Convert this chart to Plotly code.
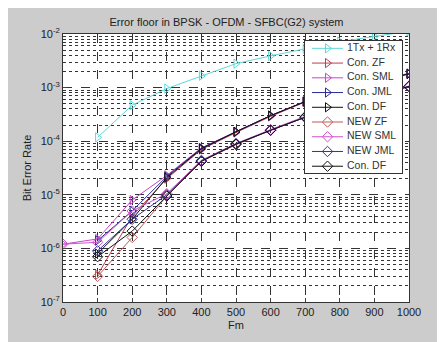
import plotly.graph_objects as go

fm_all = [0, 100, 200, 300, 400, 500, 600, 700, 800, 900, 1000]
fm = [100, 200, 300, 400, 500, 600, 700, 800, 900, 1000]

ber_1tx1rx = [1.18e-4, 4.7e-4, 9.6e-4, 1.66e-3, 2.8e-3, 3.9e-3, 5.3e-3, 7.2e-3, 9.0e-3, 1.12e-2]

con_zf  = [3.2e-7, 4.0e-6, 2.0e-5, 7.0e-5, 1.45e-4, 2.9e-4, 5.4e-4, 8.8e-4, 1.3e-3, 1.8e-3]
con_sml = [1.2e-6, 1.5e-6, 8.0e-6, 2.3e-5, 7.5e-5, 1.5e-4, 3.0e-4, 5.5e-4, 9.0e-4, 1.3e-3, 1.85e-3]
con_jml = [1.4e-6, 5.0e-6, 2.2e-5, 7.4e-5, 1.5e-4, 3.0e-4, 5.5e-4, 9.0e-4, 1.3e-3, 1.8e-3]
con_df  = [8.0e-7, 3.5e-6, 2.1e-5, 7.2e-5, 1.5e-4, 3.0e-4, 5.5e-4, 9.0e-4, 1.3e-3, 1.8e-3]
new_zf  = [3.0e-7, 1.6e-6, 9.5e-6, 4.2e-5, 8.6e-5, 1.6e-4, 2.8e-4, 4.6e-4, 7.0e-4, 1.05e-3]
new_sml = [1.2e-6, 1.3e-6, 5.0e-6, 1.05e-5, 4.4e-5, 9.0e-5, 1.65e-4, 2.9e-4, 4.7e-4, 7.2e-4, 1.07e-3]
new_jml = [9.0e-7, 3.5e-6, 1.0e-5, 4.3e-5, 9.0e-5, 1.6e-4, 2.8e-4, 4.6e-4, 7.0e-4, 1.05e-3]
new_df  = [7.0e-7, 2.1e-6, 9.5e-6, 4.2e-5, 8.8e-5, 1.6e-4, 2.8e-4, 4.6e-4, 7.0e-4, 1.05e-3]

y_tickvals = [1e-7, 1e-6, 1e-5, 1e-4, 1e-3, 1e-2]
y_ticktext = ["10<sup>-7</sup>", "10<sup>-6</sup>", "10<sup>-5</sup>", "10<sup>-4</sup>", "10<sup>-3</sup>", "10<sup>-2</sup>"]
x_tickvals = [0, 100, 200, 300, 400, 500, 600, 700, 800, 900, 1000]
minor_mult = [2, 3, 4, 5, 6, 7, 8, 9]
y_minor_vals = [m * d for d in y_tickvals[:-1] for m in minor_mult]

series = [
    ("1Tx + 1Rx", fm, ber_1tx1rx, "#5fd8d8", "triangle-right-open"),
    ("Con. ZF", fm, con_zf, "#b8404f", "triangle-right-open"),
    ("Con. SML", fm_all, con_sml, "#cc44cc", "triangle-right-open"),
    ("Con. JML", fm, con_jml, "#2b2b9a", "triangle-right-open"),
    ("Con. DF", fm, con_df, "#111111", "triangle-right-open"),
    ("NEW ZF", fm, new_zf, "#c05a5a", "diamond-open"),
    ("NEW SML", fm_all, new_sml, "#cc55cc", "diamond-open"),
    ("NEW JML", fm, new_jml, "#33339a", "diamond-open"),
    ("Con. DF", fm, new_df, "#111111", "diamond-open"),
]

fig = go.Figure()
for name, xs, ys, col, sym in series:
    fig.add_trace(go.Scatter(
        x=xs, y=ys, name=name, mode="lines+markers", showlegend=False,
        line=dict(color=col, width=1),
        marker=dict(symbol=sym, size=8, color=col, line=dict(color=col, width=1)),
    ))

# ---- MATLAB-style legend box drawn on an overlay subplot (pixel-like units) ----
LW, LH = 97, 134          # legend box size
row0, rowstep = 7.5, 14.9  # row layout inside box
fig.add_trace(go.Scatter(x=[0, LW, LW, 0, 0], y=[0, 0, LH, LH, 0], fill="toself",
                         fillcolor="white", line=dict(width=0), mode="lines",
                         hoverinfo="skip", showlegend=False, xaxis="x2", yaxis="y2"))
for i, (name, xs, ys, col, sym) in enumerate(series):
    ry = row0 + rowstep * i
    fig.add_trace(go.Scatter(x=[7, 38], y=[ry, ry], mode="lines", line=dict(color=col, width=1),
                             hoverinfo="skip", showlegend=False, xaxis="x2", yaxis="y2"))
    fig.add_trace(go.Scatter(x=[22.5], y=[ry], mode="markers",
                             marker=dict(symbol=sym, size=8, color=col, line=dict(color=col, width=1)),
                             hoverinfo="skip", showlegend=False, xaxis="x2", yaxis="y2"))
    fig.add_trace(go.Scatter(x=[42], y=[ry], mode="text", text=[name], textposition="middle right",
                             textfont=dict(size=10.5, color="#333333"),
                             hoverinfo="skip", showlegend=False, xaxis="x2", yaxis="y2"))

font_family = "Liberation Sans, Arial, sans-serif"
W, H = 437, 334  # page body adds an 8px white margin on top/left
PL, PR, PT, PB = 55, 401, 26, 297
pw, ph = PR - PL, PB - PT
lx0, ly0 = 297, 33
fig.update_layout(
    width=W, height=H,
    paper_bgcolor="#cccccc",
    plot_bgcolor="white",
    margin=dict(l=PL, r=W - PR, t=PT, b=H - PB),
    font=dict(family=font_family, size=11, color="#222222"),
    title=dict(text="Error floor in BPSK - OFDM - SFBC(G2) system", x=0.5, xanchor="center",
               y=1 - 14 / H, yanchor="middle", font=dict(size=11, color="#222222")),
    showlegend=False,
    xaxis=dict(
        range=[0, 1000], tickvals=x_tickvals, ticks="inside", ticklen=4,
        showgrid=True, gridcolor="#333333", griddash="dash", gridwidth=1,
        showline=True, linecolor="#333333", mirror=True, zeroline=False,
        title=dict(text="Fm", standoff=4, font=dict(size=11)),
        tickfont=dict(size=11),
    ),
    yaxis=dict(
        type="log", range=[-7, -2], tickvals=y_tickvals, ticktext=y_ticktext,
        ticks="inside", ticklen=4,
        showgrid=True, gridcolor="#333333", griddash="dash", gridwidth=1,
        minor=dict(tickmode="array", tickvals=y_minor_vals, showgrid=True,
                   gridcolor="#333333", griddash="dot", gridwidth=1, ticks=""),
        showline=True, linecolor="#333333", mirror=True, zeroline=False,
        title=dict(text="Bit Error Rate", standoff=6, font=dict(size=11)),
        tickfont=dict(size=11),
    ),
    xaxis2=dict(domain=[(lx0 - PL) / pw, (lx0 + LW - PL) / pw], range=[0, LW], anchor="y2",
                showgrid=False, zeroline=False, showticklabels=False, ticks="",
                showline=True, mirror=True, linecolor="#333333", linewidth=1, fixedrange=True),
    yaxis2=dict(domain=[(PB - ly0 - LH) / ph, (PB - ly0) / ph], range=[LH, 0], anchor="x2",
                showgrid=False, zeroline=False, showticklabels=False, ticks="",
                showline=True, mirror=True, linecolor="#333333", linewidth=1, fixedrange=True),
)

fig.write_html("out.html")
